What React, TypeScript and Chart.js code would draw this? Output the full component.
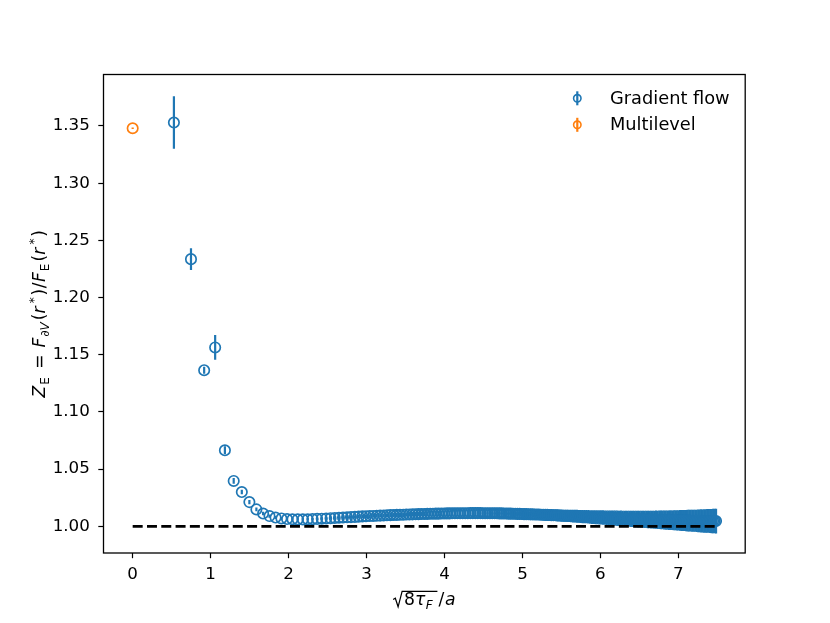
import React, { useEffect, useRef } from "react";
import { Chart, registerables } from "chart.js";

Chart.register(...registerables);

// ---------------- data ----------------
const GF_X = [
  0.529, 0.748, 0.917, 1.058, 1.183, 1.296, 1.400, 1.497, 1.587, 1.673,
  1.755, 1.833, 1.908, 1.980, 2.049, 2.117, 2.182, 2.245, 2.307, 2.366,
  2.425, 2.482, 2.538, 2.592, 2.646, 2.698, 2.750, 2.800, 2.850, 2.898,
  2.946, 2.993, 3.040, 3.085, 3.130, 3.175, 3.219, 3.262, 3.305, 3.347,
  3.388, 3.429, 3.470, 3.510, 3.550, 3.589, 3.628, 3.666, 3.704, 3.742,
  3.779, 3.816, 3.852, 3.888, 3.924, 3.960, 3.995, 4.030, 4.064, 4.099,
  4.133, 4.167, 4.200, 4.233, 4.266, 4.299, 4.331, 4.363, 4.395, 4.427,
  4.459, 4.490, 4.521, 4.552, 4.583, 4.613, 4.643, 4.673, 4.703, 4.733,
  4.762, 4.792, 4.821, 4.850, 4.879, 4.907, 4.936, 4.964, 4.992, 5.020,
  5.048, 5.075, 5.103, 5.130, 5.158, 5.185, 5.212, 5.238, 5.265, 5.292,
  5.318, 5.344, 5.370, 5.396, 5.422, 5.448, 5.474, 5.499, 5.525, 5.550,
  5.575, 5.600, 5.625, 5.650, 5.675, 5.699, 5.724, 5.748, 5.772, 5.797,
  5.821, 5.845, 5.869, 5.892, 5.916, 5.940, 5.963, 5.987, 6.010, 6.033,
  6.056, 6.079, 6.102, 6.125, 6.148, 6.171, 6.193, 6.216, 6.239, 6.261,
  6.283, 6.306, 6.328, 6.350, 6.372, 6.394, 6.416, 6.437, 6.459, 6.481,
  6.502, 6.524, 6.545, 6.567, 6.588, 6.609, 6.630, 6.651, 6.672, 6.693,
  6.714, 6.735, 6.756, 6.776, 6.797, 6.818, 6.838, 6.859, 6.879, 6.899,
  6.920, 6.940, 6.960, 6.980, 7.000, 7.020, 7.040, 7.060, 7.080, 7.099,
  7.119, 7.139, 7.158, 7.178, 7.197, 7.217, 7.236, 7.255, 7.275, 7.294,
  7.313, 7.332, 7.351, 7.370, 7.389, 7.408, 7.427, 7.446, 7.465, 7.483,
];

const GF_Y = [
  1.3530, 1.2336, 1.1365, 1.1564, 1.0665, 1.0397, 1.0300, 1.0212, 1.0148, 1.0112,
  1.0090, 1.0077, 1.0069, 1.0064, 1.0062, 1.0061, 1.0061, 1.0062, 1.0063, 1.0065,
  1.0067, 1.0069, 1.0071, 1.0073, 1.0075, 1.0077, 1.0079, 1.0081, 1.0083, 1.0085,
  1.0087, 1.0088, 1.0090, 1.0091, 1.0093, 1.0094, 1.0095, 1.0097, 1.0098, 1.0099,
  1.0100, 1.0101, 1.0102, 1.0103, 1.0104, 1.0105, 1.0106, 1.0107, 1.0108, 1.0108,
  1.0109, 1.0110, 1.0110, 1.0111, 1.0111, 1.0112, 1.0112, 1.0113, 1.0113, 1.0114,
  1.0114, 1.0114, 1.0115, 1.0115, 1.0115, 1.0115, 1.0116, 1.0116, 1.0116, 1.0116,
  1.0116, 1.0115, 1.0115, 1.0115, 1.0115, 1.0114, 1.0114, 1.0114, 1.0113, 1.0113,
  1.0112, 1.0112, 1.0111, 1.0111, 1.0110, 1.0110, 1.0109, 1.0109, 1.0108, 1.0107,
  1.0107, 1.0106, 1.0105, 1.0105, 1.0104, 1.0103, 1.0103, 1.0102, 1.0101, 1.0100,
  1.0100, 1.0099, 1.0098, 1.0097, 1.0097, 1.0096, 1.0095, 1.0094, 1.0093, 1.0093,
  1.0092, 1.0091, 1.0090, 1.0089, 1.0089, 1.0088, 1.0087, 1.0086, 1.0085, 1.0085,
  1.0084, 1.0083, 1.0082, 1.0081, 1.0081, 1.0080, 1.0079, 1.0078, 1.0078, 1.0077,
  1.0076, 1.0075, 1.0075, 1.0074, 1.0073, 1.0072, 1.0072, 1.0071, 1.0070, 1.0070,
  1.0069, 1.0068, 1.0068, 1.0067, 1.0066, 1.0066, 1.0065, 1.0065, 1.0064, 1.0063,
  1.0063, 1.0062, 1.0062, 1.0061, 1.0061, 1.0060, 1.0060, 1.0059, 1.0059, 1.0058,
  1.0058, 1.0057, 1.0057, 1.0056, 1.0056, 1.0055, 1.0055, 1.0054, 1.0054, 1.0054,
  1.0053, 1.0053, 1.0053, 1.0052, 1.0052, 1.0052, 1.0051, 1.0051, 1.0051, 1.0050,
  1.0050, 1.0050, 1.0049, 1.0049, 1.0049, 1.0049, 1.0048, 1.0048, 1.0048, 1.0048,
  1.0047, 1.0047, 1.0047, 1.0047, 1.0047, 1.0046, 1.0046, 1.0046, 1.0046, 1.0046,
];

const GF_ERR = [
  0.0229, 0.0095, 0.0030, 0.0108, 0.0035, 0.0025, 0.0020, 0.0018, 0.0016, 0.0015,
  0.0014, 0.0013, 0.0012, 0.0012, 0.0011, 0.0011, 0.0011, 0.0011, 0.0011, 0.0011,
  0.0012, 0.0012, 0.0012, 0.0013, 0.0013, 0.0013, 0.0014, 0.0014, 0.0014, 0.0015,
  0.0015, 0.0015, 0.0016, 0.0016, 0.0017, 0.0017, 0.0017, 0.0018, 0.0018, 0.0019,
  0.0019, 0.0019, 0.0020, 0.0020, 0.0021, 0.0021, 0.0022, 0.0022, 0.0022, 0.0023,
  0.0023, 0.0024, 0.0024, 0.0025, 0.0025, 0.0026, 0.0026, 0.0027, 0.0027, 0.0028,
  0.0028, 0.0029, 0.0029, 0.0030, 0.0030, 0.0031, 0.0031, 0.0032, 0.0032, 0.0033,
  0.0033, 0.0034, 0.0034, 0.0035, 0.0035, 0.0036, 0.0036, 0.0037, 0.0037, 0.0038,
  0.0038, 0.0039, 0.0039, 0.0040, 0.0040, 0.0041, 0.0041, 0.0042, 0.0042, 0.0043,
  0.0043, 0.0044, 0.0044, 0.0045, 0.0045, 0.0046, 0.0046, 0.0047, 0.0047, 0.0048,
  0.0048, 0.0049, 0.0049, 0.0050, 0.0050, 0.0051, 0.0051, 0.0052, 0.0052, 0.0053,
  0.0053, 0.0054, 0.0054, 0.0055, 0.0055, 0.0056, 0.0056, 0.0057, 0.0057, 0.0058,
  0.0058, 0.0059, 0.0059, 0.0060, 0.0060, 0.0061, 0.0061, 0.0062, 0.0062, 0.0063,
  0.0063, 0.0064, 0.0064, 0.0065, 0.0065, 0.0066, 0.0066, 0.0067, 0.0067, 0.0068,
  0.0068, 0.0069, 0.0069, 0.0070, 0.0070, 0.0071, 0.0071, 0.0072, 0.0072, 0.0073,
  0.0074, 0.0074, 0.0075, 0.0075, 0.0076, 0.0077, 0.0077, 0.0078, 0.0078, 0.0079,
  0.0080, 0.0080, 0.0081, 0.0082, 0.0082, 0.0083, 0.0084, 0.0084, 0.0085, 0.0086,
  0.0086, 0.0087, 0.0088, 0.0088, 0.0089, 0.0090, 0.0091, 0.0091, 0.0092, 0.0093,
  0.0094, 0.0094, 0.0095, 0.0096, 0.0097, 0.0097, 0.0098, 0.0099, 0.0100, 0.0101,
  0.0101, 0.0102, 0.0103, 0.0104, 0.0104, 0.0105, 0.0106, 0.0107, 0.0107, 0.0108,
];

const ML_X = [0.0];
const ML_Y = [1.348];
const ML_ERR = [0.0006];

const REF_X = [0.0, 7.483];
const REF_Y = [1.0, 1.0];

const X_TICKS = [0, 1, 2, 3, 4, 5, 6, 7];
const Y_TICKS = [1.0, 1.05, 1.1, 1.15, 1.2, 1.25, 1.3, 1.35];
const X_RANGE = [-0.3742, 7.857];
const Y_RANGE = [0.9767, 1.395];

const SERIES_LABELS = ["Gradient flow", "Multilevel"];

// ---------------- styling ----------------
const BLUE = "#1f77b4";
const ORANGE = "#ff7f0e";
const FONT = "'DejaVu Sans', sans-serif";
const TICK_FS = 16.7;
const LEGEND_FS = 17.8;
const LABEL_FS = 17.2;

type Seg = { t: string; it?: boolean; sub?: boolean; sup?: boolean; pl?: number; pr?: number };
type Item = { s: Seg; size: number; x: number; dy: number };

function segFont(it: boolean | undefined, size: number) {
  return `${it ? "italic " : ""}${size}px ${FONT}`;
}

function layoutSegs(ctx: CanvasRenderingContext2D, segs: Seg[], fs: number) {
  let w = 0;
  const items: Item[] = [];
  for (const s of segs) {
    const size = s.sub || s.sup ? fs * 0.7 : fs;
    ctx.font = segFont(s.it, size);
    const pl = (s.pl || 0) * fs;
    const pr = (s.pr || 0) * fs;
    const tw = ctx.measureText(s.t).width;
    const dy = s.sub ? fs * 0.22 : s.sup ? -fs * 0.4 : 0;
    items.push({ s, size, x: w + pl, dy });
    w += pl + tw + pr;
  }
  return { items, w };
}

function drawSegs(ctx: CanvasRenderingContext2D, items: Item[], x0: number, y0: number) {
  for (const it of items) {
    ctx.font = segFont(it.s.it, it.size);
    ctx.fillText(it.s.t, x0 + it.x, y0 + it.dy);
  }
}

const Y_LABEL: Seg[] = [
  { t: "Z", it: true, pr: 0.06 },
  { t: "E", sub: true, pr: 0.08 },
  { t: "=", pl: 0.4, pr: 0.4 },
  { t: "F", it: true, pr: 0.05 },
  { t: "∂V", it: true, sub: true, pr: 0.12 },
  { t: "(" },
  { t: "r", it: true, pr: 0.05 },
  { t: "*", sup: true, pl: 0.14, pr: 0.1 },
  { t: ")" },
  { t: "/", pl: 0.03, pr: 0.03 },
  { t: "F", it: true, pr: 0.05 },
  { t: "E", sub: true, pr: 0.12 },
  { t: "(" },
  { t: "r", it: true, pr: 0.05 },
  { t: "*", sup: true, pl: 0.14, pr: 0.1 },
  { t: ")" },
];

const X_LABEL_INNER: Seg[] = [
  { t: "8", pl: 0.05 },
  { t: "τ", it: true, pr: 0.03 },
  { t: "F", it: true, sub: true, pr: 0.1 },
];
const X_LABEL_REST: Seg[] = [{ t: "/", pr: 0.05 }, { t: "a", it: true }];

const decorPlugin = {
  id: "decor",
  beforeDatasetDraw(chart: any, args: any) {
    const ds = chart.data.datasets[args.index];
    const errs: number[] | undefined = ds.errs;
    if (!errs) return;
    const { ctx, chartArea } = chart;
    const xs = chart.scales.x;
    const ys = chart.scales.y;
    ctx.save();
    ctx.beginPath();
    ctx.rect(chartArea.left, chartArea.top, chartArea.right - chartArea.left, chartArea.bottom - chartArea.top);
    ctx.clip();
    ctx.strokeStyle = ds.borderColor;
    ctx.lineWidth = 2.2;
    ctx.lineCap = "butt";
    ds.data.forEach((p: { x: number; y: number }, i: number) => {
      const px = xs.getPixelForValue(p.x);
      ctx.beginPath();
      ctx.moveTo(px, ys.getPixelForValue(p.y - errs[i]));
      ctx.lineTo(px, ys.getPixelForValue(p.y + errs[i]));
      ctx.stroke();
    });
    ctx.restore();
  },
  afterDatasetsDraw(chart: any) {
    const { ctx, chartArea } = chart;
    ctx.save();
    ctx.strokeStyle = "#000";
    ctx.lineWidth = 1.3;
    ctx.strokeRect(chartArea.left, chartArea.top, chartArea.right - chartArea.left, chartArea.bottom - chartArea.top);
    ctx.restore();
  },
  afterDraw(chart: any) {
    const { ctx, chartArea } = chart;
    ctx.save();
    ctx.fillStyle = "#000";
    ctx.textBaseline = "alphabetic";
    ctx.textAlign = "left";

    // y-axis label (rotated)
    const yl = layoutSegs(ctx, Y_LABEL, LABEL_FS);
    const cy = (chartArea.top + chartArea.bottom) / 2;
    ctx.save();
    ctx.translate(45, cy);
    ctx.rotate(-Math.PI / 2);
    drawSegs(ctx, yl.items, -yl.w / 2, 0);
    ctx.restore();

    // x-axis label with radical
    const inner = layoutSegs(ctx, X_LABEL_INNER, LABEL_FS);
    const rest = layoutSegs(ctx, X_LABEL_REST, LABEL_FS);
    const rw = 10;
    const barExtra = 3;
    const total = rw + inner.w + barExtra + 1 + rest.w;
    const cx = (chartArea.left + chartArea.right) / 2;
    const x0 = cx - total / 2;
    const by = 605;
    const topY = by - 13.6;
    ctx.strokeStyle = "#000";
    ctx.lineWidth = 1.2;
    ctx.lineJoin = "miter";
    ctx.beginPath();
    ctx.moveTo(x0, by - 5.5);
    ctx.lineTo(x0 + 2.2, by - 6.8);
    ctx.lineTo(x0 + 5, by + 1.8);
    ctx.lineTo(x0 + 9, topY);
    ctx.lineTo(x0 + rw + inner.w + barExtra, topY);
    ctx.stroke();
    drawSegs(ctx, inner.items, x0 + rw, by);
    drawSegs(ctx, rest.items, x0 + rw + inner.w + barExtra + 1, by);

    // legend
    const colors = [BLUE, ORANGE];
    const rows = [98.3, 124.8];
    SERIES_LABELS.forEach((label, i) => {
      const mx = 577.3;
      const my = rows[i];
      ctx.strokeStyle = colors[i];
      ctx.lineWidth = 2.2;
      ctx.beginPath();
      ctx.moveTo(mx, my - 7);
      ctx.lineTo(mx, my + 7);
      ctx.stroke();
      ctx.lineWidth = 1.6;
      ctx.beginPath();
      ctx.arc(mx, my, 3.7, 0, Math.PI * 2);
      ctx.stroke();
      ctx.fillStyle = "#000";
      ctx.font = `${LEGEND_FS}px ${FONT}`;
      ctx.fillText(label, 610, my + 5.6);
    });
    ctx.restore();
  },
};

export default function App() {
  const canvasRef = useRef<HTMLCanvasElement | null>(null);

  useEffect(() => {
    if (!canvasRef.current) return;
    const axisGrid = {
      display: true,
      drawOnChartArea: false,
      drawTicks: true,
      tickLength: 5.2,
      tickWidth: 1.2,
      tickColor: "#000",
      color: "#000",
    };
    const chart = new Chart(canvasRef.current, {
      type: "scatter",
      data: {
        datasets: [
          {
            label: SERIES_LABELS[0],
            data: GF_X.map((x, i) => ({ x, y: GF_Y[i] })),
            errs: GF_ERR,
            borderColor: BLUE,
            backgroundColor: "rgba(0,0,0,0)",
            pointRadius: 5.2,
            pointBorderWidth: 1.7,
            order: 3,
          } as any,
          {
            label: SERIES_LABELS[1],
            data: ML_X.map((x, i) => ({ x, y: ML_Y[i] })),
            errs: ML_ERR,
            borderColor: ORANGE,
            backgroundColor: "rgba(0,0,0,0)",
            pointRadius: 5.2,
            pointBorderWidth: 1.7,
            order: 2,
          } as any,
          {
            type: "line",
            label: "ref",
            data: REF_X.map((x, i) => ({ x, y: REF_Y[i] })),
            borderColor: "#000",
            borderWidth: 2.6,
            borderDash: [10, 4.3],
            pointRadius: 0,
            fill: false,
            order: 1,
          } as any,
        ],
      },
      options: {
        animation: false,
        responsive: true,
        maintainAspectRatio: false,
        events: [],
        layout: { padding: { left: 0, top: 74.5, right: 84.8, bottom: 0 } },
        plugins: {
          legend: { display: false },
          tooltip: { enabled: false },
        },
        scales: {
          x: {
            type: "linear",
            min: X_RANGE[0],
            max: X_RANGE[1],
            afterBuildTicks: (s: any) => {
              s.ticks = X_TICKS.map((v) => ({ value: v }));
            },
            afterFit: (s: any) => {
              s.height = 70;
            },
            grid: axisGrid,
            border: { display: false },
            ticks: {
              autoSkip: false,
              maxRotation: 0,
              padding: 6.5,
              color: "#000",
              font: { family: FONT, size: TICK_FS },
              callback: (v: any) => String(v),
            },
          },
          y: {
            type: "linear",
            min: Y_RANGE[0],
            max: Y_RANGE[1],
            afterBuildTicks: (s: any) => {
              s.ticks = Y_TICKS.map((v) => ({ value: v }));
            },
            afterFit: (s: any) => {
              s.width = 103.5;
            },
            grid: axisGrid,
            border: { display: false },
            ticks: {
              autoSkip: false,
              padding: 8.5,
              color: "#000",
              font: { family: FONT, size: TICK_FS },
              callback: (v: any) => Number(v).toFixed(2),
            },
          },
        },
      },
      plugins: [decorPlugin],
    } as any);
    return () => chart.destroy();
  }, []);

  return (
    <div style={{ position: "absolute", left: 0, top: 0, width: 830, height: 623, background: "#fff" }}>
      <canvas ref={canvasRef} />
    </div>
  );
}
